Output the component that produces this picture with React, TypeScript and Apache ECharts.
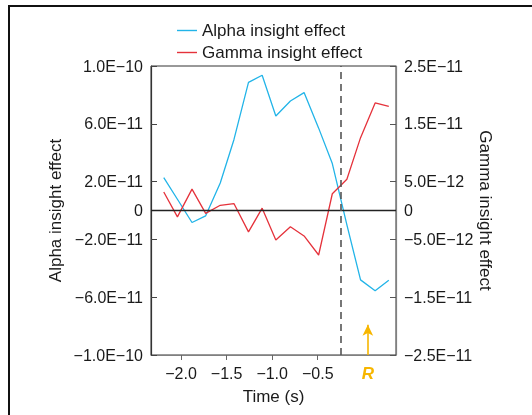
import React, { useEffect, useRef } from "react";
import * as echarts from "echarts";

// ---- data ----
const times = [-2.19, -2.04, -1.88, -1.73, -1.57, -1.42, -1.26, -1.11, -0.96, -0.8, -0.65, -0.49, -0.34, -0.18, -0.03, 0.13, 0.28];
const alphaValues = [2.28e-11, 0.78e-11, -0.83e-11, -0.37e-11, 1.9e-11, 4.9e-11, 8.87e-11, 9.36e-11, 6.54e-11, 7.58e-11, 8.16e-11, 5.7e-11, 3.25e-11, -1.0e-11, -4.8e-11, -5.56e-11, -4.82e-11];
const gammaValues = [3.2e-12, -1.1e-12, 3.7e-12, -0.5e-12, 0.9e-12, 1.2e-12, -3.7e-12, 0.4e-12, -5.1e-12, -2.8e-12, -4.4e-12, -7.7e-12, 2.9e-12, 5.4e-12, 12.6e-12, 18.6e-12, 18.0e-12];

const seriesNames = ["Alpha insight effect", "Gamma insight effect"];

const xTickValues = [-2.0, -1.5, -1.0, -0.5];
const xTickLabels = ["\u22122.0", "\u22121.5", "\u22121.0", "\u22120.5"];
const responseTime = 0.05; // "R" marker
const responseLabel = "R";
const onsetTime = -0.253; // dashed line
const arrowTop = -0.79e-10;

const leftTickValues = [-1e-10, -6e-11, -2e-11, 0, 2e-11, 6e-11, 1e-10];
const leftTickLabels = ["\u22121.0E\u221210", "\u22126.0E\u221211", "\u22122.0E\u221211", "0", "2.0E\u221211", "6.0E\u221211", "1.0E\u221210"];
const rightTickValues = [-2.5e-11, -1.5e-11, -5e-12, 0, 5e-12, 1.5e-11, 2.5e-11];
const rightTickLabels = ["\u22122.5E\u221211", "\u22121.5E\u221211", "\u22125.0E\u221212", "0", "5.0E\u221212", "1.5E\u221211", "2.5E\u221211"];

const FONT = "'Liberation Sans', Arial, Helvetica, sans-serif";
const ALPHA_COLOR = "#22b4e8";
const GAMMA_COLOR = "#e5323b";
const R_COLOR = "#f7b600";

function lookup(values: number[], labels: string[], v: number, tol: number) {
  let best = -1;
  let bd = Infinity;
  values.forEach((x, i) => {
    const d = Math.abs(x - v);
    if (d < bd) { bd = d; best = i; }
  });
  return best >= 0 && bd <= tol ? labels[best] : "";
}

export default function App() {
  const ref = useRef<HTMLDivElement>(null);
  useEffect(() => {
    const chart = echarts.init(ref.current!, null, { renderer: "svg" });
    const option: any = {
      animation: false,
      textStyle: { fontFamily: FONT },
      graphic: [
        {
          type: "rect",
          shape: { x: 9, y: 6, width: 700, height: 700 },
          style: { fill: "none", stroke: "#111", lineWidth: 2 },
          silent: true,
        },
      ],
      legend: {
        orient: "vertical",
        left: 172,
        top: 17,
        itemWidth: 20,
        itemHeight: 1.4,
        itemGap: 5,
        icon: "rect",
        data: seriesNames,
        textStyle: { fontSize: 17, color: "#1a1a1a", fontFamily: FONT },
      },
      grid: {
        left: 151,
        right: 136,
        top: 66,
        bottom: 60,
        show: true,
        borderColor: "#333",
        borderWidth: 1,
        containLabel: false,
      },
      xAxis: {
        type: "value",
        min: -2.33,
        max: 0.359,
        name: "Time (s)",
        nameLocation: "middle",
        nameGap: 33,
        nameTextStyle: { fontSize: 17, color: "#1a1a1a", fontFamily: FONT },
        splitLine: { show: false },
        axisLine: { show: true, onZero: false, lineStyle: { color: "#808080", width: 1.2 } },
        axisTick: { show: true, inside: false, length: 5, customValues: xTickValues, lineStyle: { color: "#666" } },
        axisLabel: {
          customValues: [...xTickValues, responseTime],
          margin: 10,
          fontSize: 16,
          color: "#1a1a1a",
          fontFamily: FONT,
          formatter: (v: number) =>
            Math.abs(v - responseTime) < 1e-6 ? "{r|" + responseLabel + "}" : lookup(xTickValues, xTickLabels, v, 1e-6),
          rich: {
            r: { fontSize: 17, fontWeight: "bold", fontStyle: "italic", color: R_COLOR, fontFamily: FONT },
          },
        },
      },
      yAxis: [
        {
          type: "value",
          position: "left",
          min: -1e-10,
          max: 1e-10,
          name: "Alpha insight effect",
          nameLocation: "middle",
          nameGap: 87,
          nameTextStyle: { fontSize: 17, color: "#1a1a1a", fontFamily: FONT },
          splitLine: { show: false },
          axisLine: { show: true, onZero: false, lineStyle: { color: "#333", width: 1.2 } },
          axisTick: { show: true, inside: true, length: 6, customValues: leftTickValues.filter((v) => v !== 0), lineStyle: { color: "#444" } },
          axisLabel: {
            customValues: leftTickValues,
            margin: 8,
            fontSize: 16,
            color: "#1a1a1a",
            fontFamily: FONT,
            formatter: (v: number) => lookup(leftTickValues, leftTickLabels, v, 1e-13),
          },
        },
        {
          type: "value",
          position: "right",
          min: -2.5e-11,
          max: 2.5e-11,
          name: "Gamma insight effect",
          nameLocation: "middle",
          nameGap: 81,
          nameRotate: -90,
          nameTextStyle: { fontSize: 17, color: "#1a1a1a", fontFamily: FONT },
          splitLine: { show: false },
          axisLine: { show: true, onZero: false, lineStyle: { color: "#808080", width: 1.2 } },
          axisTick: { show: true, inside: true, length: 6, customValues: rightTickValues.filter((v) => v !== 0), lineStyle: { color: "#555" } },
          axisLabel: {
            customValues: rightTickValues,
            margin: 8,
            fontSize: 16,
            color: "#1a1a1a",
            fontFamily: FONT,
            formatter: (v: number) => lookup(rightTickValues, rightTickLabels, v, 1e-14),
          },
        },
      ],
      series: [
        {
          name: seriesNames[0],
          type: "line",
          yAxisIndex: 0,
          symbol: "none",
          data: times.map((t, i) => [t, alphaValues[i]]),
          lineStyle: { color: ALPHA_COLOR, width: 1.3 },
          itemStyle: { color: ALPHA_COLOR },
          z: 3,
          markLine: {
            silent: true,
            symbol: "none",
            label: { show: false },
            emphasis: { disabled: true },
            data: [
              { yAxis: 0, lineStyle: { color: "#222", width: 1.3, type: "solid" } },
              { xAxis: onsetTime, lineStyle: { color: "#555", width: 1.6, type: [7, 5] } },
              [
                { coord: [responseTime, -1e-10], symbol: "none", lineStyle: { color: R_COLOR, width: 1.6, type: "solid" } },
                { coord: [responseTime, arrowTop], symbol: "arrow", symbolSize: [8, 11] },
              ],
            ],
          },
        },
        {
          name: seriesNames[1],
          type: "line",
          yAxisIndex: 1,
          symbol: "none",
          data: times.map((t, i) => [t, gammaValues[i]]),
          lineStyle: { color: GAMMA_COLOR, width: 1.3 },
          itemStyle: { color: GAMMA_COLOR },
          z: 3,
        },
      ],
    };
    chart.setOption(option);
    return () => chart.dispose();
  }, []);
  return <div ref={ref} style={{ position: "fixed", left: 0, top: 0, width: 532, height: 415 }} />;
}
